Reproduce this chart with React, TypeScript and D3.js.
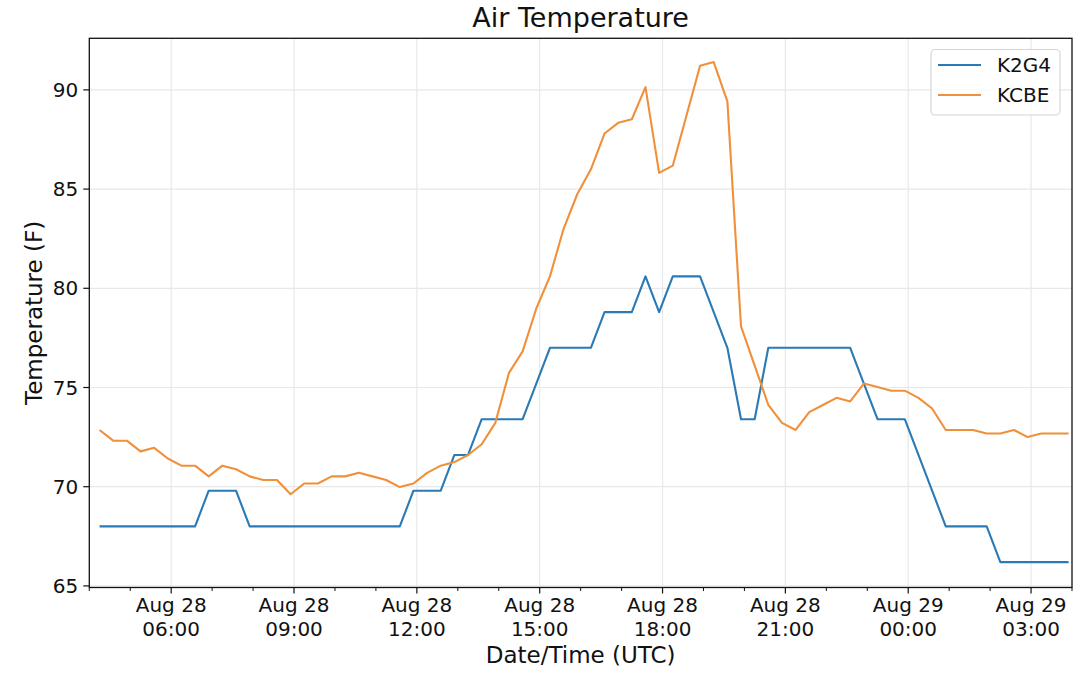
import { useRef, useEffect } from "react";
import * as d3 from "d3";

const stations = ["K2G4", "KCBE"];
const colors = ["#2a7ab5", "#f0903a"];

// obs every 20 min starting 04:15 UTC Aug 28
const firstObs = Date.UTC(2018, 7, 28, 4, 15);
const stepMinutes = 20;

const k2g4 = [
  68, 68, 68, 68, 68, 68, 68, 68, 69.8, 69.8, 69.8, 68, 68, 68, 68, 68, 68, 68,
  68, 68, 68, 68, 68, 69.8, 69.8, 69.8, 71.6, 71.6, 73.4, 73.4, 73.4, 73.4,
  75.2, 77, 77, 77, 77, 78.8, 78.8, 78.8, 80.6, 78.8, 80.6, 80.6, 80.6, 78.8,
  77, 73.4, 73.4, 77, 77, 77, 77, 77, 77, 77, 75.2, 73.4, 73.4, 73.4, 71.6,
  69.8, 68, 68, 68, 68, 66.2, 66.2, 66.2, 66.2, 66.2, 66.2,
];

const kcbe = [
  72.86, 72.32, 72.32, 71.78, 71.96, 71.42, 71.06, 71.06, 70.52, 71.06, 70.88,
  70.52, 70.34, 70.34, 69.62, 70.16, 70.16, 70.52, 70.52, 70.7, 70.52, 70.34,
  69.98, 70.16, 70.7, 71.06, 71.24, 71.6, 72.14, 73.22, 75.74, 76.82, 78.98,
  80.6, 83.0, 84.74, 86.0, 87.8, 88.34, 88.52, 90.14, 85.82, 86.18, 88.7,
  91.22, 91.4, 89.42, 78.08, 76.1, 74.12, 73.22, 72.86, 73.76, 74.12, 74.48,
  74.3, 75.2, 75.02, 74.84, 74.84, 74.48, 73.94, 72.86, 72.86, 72.86, 72.68,
  72.68, 72.86, 72.5, 72.68, 72.68, 72.68,
];

const yTicks = [65, 70, 75, 80, 85, 90];

const W = 1080;
const H = 682;
const FONT = "DejaVu Sans, sans-serif";

const App = () => {
  const svgRef = useRef<SVGSVGElement>(null);

  useEffect(() => {
    if (!svgRef.current) return;
    const svg = d3.select(svgRef.current);
    svg.selectAll("*").remove();

    const left = 89.3;
    const right = 1072;
    const top = 38.3;
    const bottom = 587.5;

    const x = d3
      .scaleUtc()
      .domain([new Date(Date.UTC(2018, 7, 28, 4)), new Date(Date.UTC(2018, 7, 29, 4))])
      .range([left, right]);
    const y = d3.scaleLinear().domain([64.92, 92.6]).range([bottom, top]);

    const times = k2g4.map((_, i) => new Date(firstObs + i * stepMinutes * 60000));
    const series = [k2g4, kcbe];

    const majors = d3.utcHour.every(3)!.range(x.domain()[0], x.domain()[1]).filter((d) => d.getUTCHours() % 3 === 0);
    const minors = d3.utcHour.range(x.domain()[0], new Date(+x.domain()[1] + 1)).filter((d) => d.getUTCHours() % 3 !== 0);

    svg.append("rect").attr("width", W).attr("height", H).attr("fill", "#fff");

    // grid
    const grid = svg.append("g").attr("stroke", "#e8e8e8").attr("stroke-width", 1.2);
    grid
      .selectAll("line.gx")
      .data(majors)
      .enter()
      .append("line")
      .attr("x1", (d) => x(d))
      .attr("x2", (d) => x(d))
      .attr("y1", top)
      .attr("y2", bottom);
    grid
      .selectAll("line.gy")
      .data(yTicks)
      .enter()
      .append("line")
      .attr("x1", left)
      .attr("x2", right)
      .attr("y1", (d) => y(d))
      .attr("y2", (d) => y(d));

    // lines
    const line = d3
      .line<number>()
      .x((_, i) => x(times[i]))
      .y((d) => y(d));
    series.forEach((s, i) => {
      svg
        .append("path")
        .attr("d", line(s))
        .attr("fill", "none")
        .attr("stroke", colors[i])
        .attr("stroke-width", 2.1)
        .attr("stroke-linejoin", "round");
    });

    // frame
    svg
      .append("rect")
      .attr("x", left)
      .attr("y", top)
      .attr("width", right - left)
      .attr("height", bottom - top)
      .attr("fill", "none")
      .attr("stroke", "#111")
      .attr("stroke-width", 1.3);

    // y ticks
    const yt = svg.append("g");
    yTicks.forEach((t) => {
      yt.append("line")
        .attr("x1", left - 6)
        .attr("x2", left)
        .attr("y1", y(t))
        .attr("y2", y(t))
        .attr("stroke", "#111")
        .attr("stroke-width", 1.2);
      yt.append("text")
        .attr("x", left - 11)
        .attr("y", y(t))
        .attr("dy", "0.36em")
        .attr("text-anchor", "end")
        .attr("font-family", FONT)
        .attr("font-size", 20)
        .attr("fill", "#111")
        .text(t);
    });

    // x ticks
    const xt = svg.append("g");
    majors.forEach((d) => {
      xt.append("line")
        .attr("x1", x(d))
        .attr("x2", x(d))
        .attr("y1", bottom)
        .attr("y2", bottom + 6)
        .attr("stroke", "#111")
        .attr("stroke-width", 1.2);
      const tx = xt
        .append("text")
        .attr("text-anchor", "middle")
        .attr("font-family", FONT)
        .attr("font-size", 20)
        .attr("fill", "#111");
      tx.append("tspan").attr("x", x(d)).attr("y", 612).text(d3.utcFormat("%b %d")(d));
      tx.append("tspan").attr("x", x(d)).attr("y", 635.5).text(d3.utcFormat("%H:%M")(d));
    });
    minors.forEach((d) => {
      xt.append("line")
        .attr("x1", x(d))
        .attr("x2", x(d))
        .attr("y1", bottom)
        .attr("y2", bottom + 3.5)
        .attr("stroke", "#111")
        .attr("stroke-width", 1);
    });

    // labels
    svg
      .append("text")
      .attr("x", (left + right) / 2)
      .attr("y", 27)
      .attr("text-anchor", "middle")
      .attr("font-family", FONT)
      .attr("font-size", 27)
      .attr("fill", "#111")
      .text("Air Temperature");
    svg
      .append("text")
      .attr("x", (left + right) / 2)
      .attr("y", 663)
      .attr("text-anchor", "middle")
      .attr("font-family", FONT)
      .attr("font-size", 23)
      .attr("fill", "#111")
      .text("Date/Time (UTC)");
    svg
      .append("text")
      .attr("transform", `translate(42,${(top + bottom) / 2}) rotate(-90)`)
      .attr("text-anchor", "middle")
      .attr("font-family", FONT)
      .attr("font-size", 23)
      .attr("fill", "#111")
      .text("Temperature (F)");

    // legend
    const lg = svg.append("g");
    lg.append("rect")
      .attr("x", 931)
      .attr("y", 49.5)
      .attr("width", 129)
      .attr("height", 65.5)
      .attr("rx", 4)
      .attr("fill", "#fff")
      .attr("fill-opacity", 0.8)
      .attr("stroke", "#d6d6d6")
      .attr("stroke-width", 1.2);
    stations.forEach((name, i) => {
      const ly = 65 + i * 30;
      lg.append("line")
        .attr("x1", 938)
        .attr("x2", 981)
        .attr("y1", ly)
        .attr("y2", ly)
        .attr("stroke", colors[i])
        .attr("stroke-width", 2.1);
      lg.append("text")
        .attr("x", 997)
        .attr("y", ly)
        .attr("dy", "0.36em")
        .attr("font-family", FONT)
        .attr("font-size", 20)
        .attr("fill", "#111")
        .text(name);
    });
  }, []);

  return (
    <svg
      ref={svgRef}
      width={W}
      height={H}
      style={{ position: "absolute", left: 0, top: 0 }}
    />
  );
};

export default App;
